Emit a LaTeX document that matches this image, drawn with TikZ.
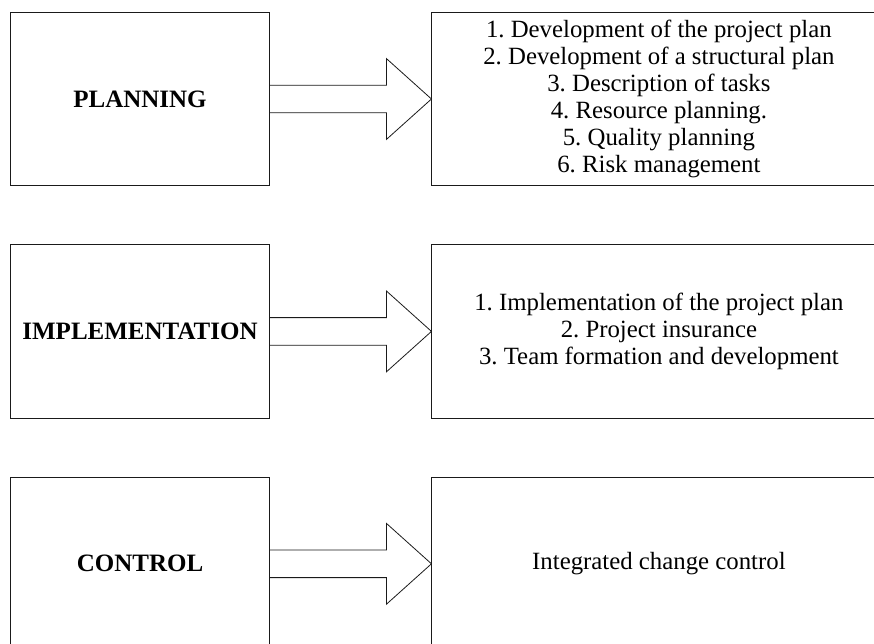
\documentclass[tikz,border=0pt]{standalone}
\usepackage{fontspec}
\setmainfont{Liberation Serif}
\usetikzlibrary{positioning,calc}
\definecolor{framegray}{HTML}{1A1A1A}
\tikzset{
  stagebox/.style={
    rectangle, draw=framegray, line width=0.9pt, inner sep=0pt,
    minimum width=258.6pt, minimum height=173.4pt, align=center,
    font=\fontsize{25}{27}\selectfont\bfseries
  },
  listbox/.style={
    rectangle, draw=framegray, line width=0.9pt, inner sep=0pt,
    minimum width=454pt, minimum height=173.4pt, align=center,
    font=\fontsize{24.8}{27}\selectfont\frenchspacing
  },
  blockarrow/.style={draw=framegray, line width=0.8pt, line join=miter}
}
\newcommand{\stagearrow}[2]{
  \draw[blockarrow]
    ($(#1.east)+(0,-13.8)$) -- ($(#2.west)+(-45,-13.8)$)
    -- ($(#2.west)+(-45,-40.4)$) -- (#2.west)
    -- ($(#2.west)+(-45,40.4)$) -- ($(#2.west)+(-45,13.8)$)
    -- ($(#1.east)+(0,13.8)$);
}

\begin{document}
\begin{tikzpicture}[x=1pt,y=-1pt]
\useasboundingbox (0,0) rectangle (874,643);
\clip (0,0) rectangle (874,643);
\node[stagebox] (plan) at (140,99) {PLANNING};
\node[stagebox, below=58.1pt of plan] (impl) {IMPLEMENTATION};
\node[stagebox, below=58.1pt of impl] (ctrl) {CONTROL};
\node[listbox, right=161.7pt of plan] (planlist) {1. Development of the project plan\\2. Development of a structural plan\\3. Description of tasks\\4. Resource planning.\\5. Quality planning\\6. Risk management};
\node[listbox, right=161.7pt of impl] (impllist) {1. Implementation of the project plan\\2. Project insurance\\3. Team formation and development};
\node[listbox, right=161.7pt of ctrl] (ctrllist) {Integrated change control};
\stagearrow{plan}{planlist}
\stagearrow{impl}{impllist}
\stagearrow{ctrl}{ctrllist}
\end{tikzpicture}
\end{document}
